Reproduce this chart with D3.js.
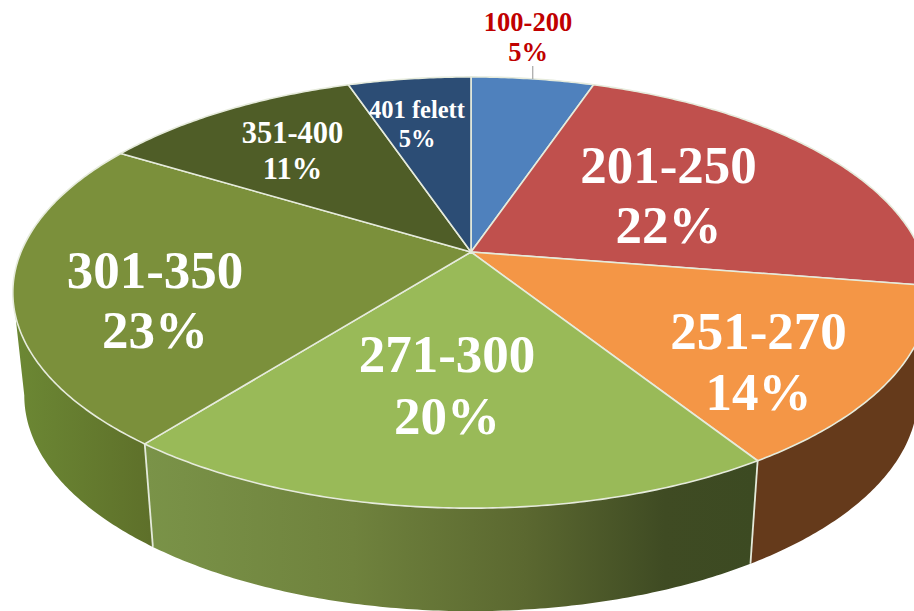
<!DOCTYPE html>
<html><head><meta charset="utf-8">
<style>html,body{margin:0;padding:0;background:#fff;overflow:hidden}svg{display:block}</style>
<script src="https://cdn.jsdelivr.net/npm/d3@7"></script></head>
<body><svg id="c" width="914" height="611"></svg>
<script>
const categories = ["100-200","201-250","251-270","271-300","301-350","351-400","401 felett"];
const shares = [5.2,22.3,13.5,19.6,23.1,11.1,5.2];
const shownPercent = ["5%","22%","14%","20%","23%","11%","5%"];

// presentation, separate from data
const topColors = ["#4f81bd","#c0504d","#f49646","#99ba58","#7b903b","#4f5d27","#2c4d75"];
const sideColors = ["#3a6090","#8f3b39","#653a1b",null,null,"#3f4a20","#203a58"];
const labelLayout = [
  {x:528,y:[31,61],size:26.5,fill:"#c00000"},
  {x:668.5,y:[183,243],size:53,fill:"#fff"},
  {x:758.5,y:[349,410],size:53,fill:"#fff"},
  {x:447,y:[372,434],size:53,fill:"#fff"},
  {x:155,y:[288,348],size:53,fill:"#fff"},
  {x:292.5,y:[143,179],size:30.5,fill:"#fff"},
  {x:417,y:[118,147],size:24.5,fill:"#fff"}];

const svg = d3.select("#c");
const cx=471, cy=252, A=450, B=208, K=0.188, depth=103, taper=0.975;
// angles of the left/right silhouette tangents of the perspective disc
const tanR=Math.acos(-K), tanL=2*Math.PI-tanR;

// perspective projection of the unit disc; angle 0 = top, clockwise
function proj(a){
  const X=Math.sin(a), Y=-Math.cos(a), d=1-K*Y;
  return [cx+A*X/d, cy+B*Y/d];
}
function low(p){ return [cx+(p[0]-cx)*taper, p[1]+depth]; }
function arcPts(a0,a1){
  const n=Math.max(2,Math.ceil((a1-a0)/0.01));
  return d3.range(n+1).map(i=>proj(a0+(a1-a0)*i/n));
}
const line=d3.line();
const pie=d3.pie().sort(null).value(d=>d)(shares);

const defs=svg.append("defs");
function grad(id,stops,x1,x2){
  const g=defs.append("linearGradient").attr("id",id).attr("gradientUnits","userSpaceOnUse")
    .attr("x1",x1).attr("x2",x2).attr("y1",0).attr("y2",0);
  stops.forEach(s=>g.append("stop").attr("offset",s[0]).attr("stop-color",s[1]));
}
grad("side3",[[0,"#7a9348"],[0.34,"#6f823d"],[0.62,"#5b6830"],[0.85,"#3f4b23"],[1,"#3c4a22"]],146,756);
grad("side4",[[0,"#6c8834"],[1,"#5e702a"]],15,150);

const sides=svg.append("g"), tops=svg.append("g"), texts=svg.append("g");

pie.forEach((s,i)=>{
  const a0=Math.max(s.startAngle,tanR), a1=Math.min(s.endAngle,tanL);
  if(a1<=a0) return;
  const top=arcPts(a0,a1);
  const bottom=top.map(low).reverse();
  const fill = i===3?"url(#side3)":i===4?"url(#side4)":sideColors[i];
  sides.append("path").attr("d",line(top.concat(bottom))+"Z").attr("fill",fill);
});
// white edges between visible side faces
[pie[2].endAngle,pie[3].endAngle].forEach(a=>{
  const p=proj(a);
  sides.append("path").attr("d",line([p,low(p)])).attr("stroke","#e4eadb").attr("stroke-width",1.8).attr("fill","none");
});
pie.forEach((s,i)=>{
  const top=arcPts(s.startAngle,s.endAngle);
  tops.append("path").attr("d",line([[cx,cy]].concat(top))+"Z")
    .attr("fill",topColors[i])
    .attr("stroke","#e6ebdc").attr("stroke-width",1.6).attr("stroke-linejoin","round");
});
// leader for the outside label
const lp=proj((pie[0].startAngle+pie[0].endAngle)/2);
texts.append("path").attr("d",line([[lp[0],66],[lp[0],lp[1]]])).attr("stroke","#a6a6a6").attr("stroke-width",1.2).attr("fill","none");

categories.forEach((c,i)=>{
  const l=labelLayout[i];
  [c,shownPercent[i]].forEach((t,j)=>{
    texts.append("text").attr("x",l.x).attr("y",l.y[j]).attr("text-anchor","middle")
      .attr("font-family","'Liberation Serif',serif").attr("font-weight","bold")
      .attr("font-size",l.size).attr("fill",l.fill).text(t);
  });
});
</script></body></html>
